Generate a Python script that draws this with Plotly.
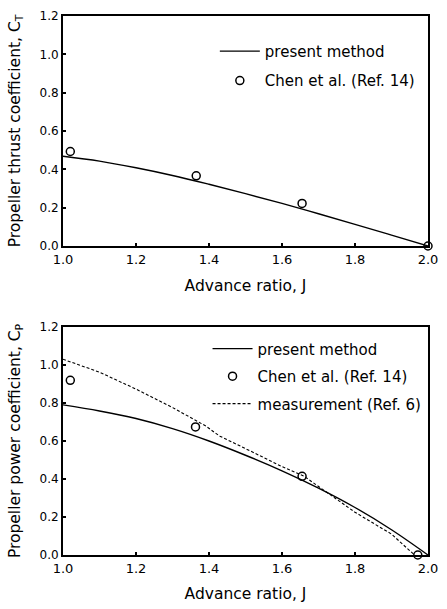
import plotly.graph_objects as go
from plotly.subplots import make_subplots

# ---- Data ----
# Top panel: thrust coefficient
J_ct_present = [1.0, 1.1, 1.2, 1.3, 1.4, 1.5, 1.6, 1.7, 1.8, 1.9, 2.0]
CT_present = [0.468, 0.443, 0.408, 0.368, 0.322, 0.273, 0.222, 0.168, 0.113, 0.057, 0.0]
J_ct_chen = [1.02, 1.365, 1.655, 2.0]
CT_chen = [0.493, 0.366, 0.222, 0.0]

# Bottom panel: power coefficient
J_cp_present = [1.0, 1.1, 1.2, 1.3, 1.4, 1.5, 1.6, 1.7, 1.8, 1.9, 2.0]
CP_present = [0.79, 0.758, 0.718, 0.665, 0.600, 0.525, 0.443, 0.352, 0.25, 0.133, 0.0]
J_cp_chen = [1.02, 1.363, 1.655, 1.972]
CP_chen = [0.919, 0.674, 0.414, 0.0]
J_cp_meas = [1.0, 1.1, 1.2, 1.3, 1.39, 1.43, 1.5, 1.6, 1.66, 1.8, 1.9, 1.963]
CP_meas = [1.03, 0.962, 0.873, 0.776, 0.68, 0.625, 0.56, 0.465, 0.415, 0.225, 0.11, 0.0]

y_ticks = [0.0, 0.2, 0.4, 0.6, 0.8, 1.0, 1.2]
x_ticks = [1.0, 1.2, 1.4, 1.6, 1.8, 2.0]

FONT = "DejaVu Sans"
fig = make_subplots(rows=2, cols=1, vertical_spacing=0.15)

line_style = dict(color="black", width=1.4)
marker_style = dict(symbol="circle-open", size=8, color="black", line=dict(width=1.5, color="black"))

fig.add_trace(go.Scatter(x=J_ct_present, y=CT_present, mode="lines", line=line_style,
                         name="present method", legend="legend", legendgroup="a",
                         line_shape="spline"), row=1, col=1)
fig.add_trace(go.Scatter(x=J_ct_chen, y=CT_chen, mode="markers", marker=marker_style,
                         name="Chen et al. (Ref. 14)", legend="legend", legendgroup="b",
                         cliponaxis=False), row=1, col=1)

fig.add_trace(go.Scatter(x=J_cp_present, y=CP_present, mode="lines", line=line_style,
                         name="present method", legend="legend2", legendgroup="c",
                         line_shape="spline"), row=2, col=1)
fig.add_trace(go.Scatter(x=J_cp_chen, y=CP_chen, mode="markers", marker=marker_style,
                         name="Chen et al. (Ref. 14)", legend="legend2", legendgroup="d",
                         cliponaxis=False), row=2, col=1)
fig.add_trace(go.Scatter(x=J_cp_meas, y=CP_meas, mode="lines",
                         line=dict(color="black", width=1.1, dash="3px,2px"),
                         name="measurement (Ref. 6)", legend="legend2", legendgroup="e"),
              row=2, col=1)

axis_common = dict(showline=True, linecolor="black", linewidth=2, mirror=True,
                   ticks="inside", ticklen=3, tickwidth=1.5, tickcolor="black",
                   showgrid=False, zeroline=False, tickformat=".1f")

for r in (1, 2):
    fig.update_xaxes(range=[1.0, 2.0], tickvals=x_ticks, title_text="Advance ratio, J",
                     title_font=dict(size=15.5, family=FONT, color="black"),
                     tickfont=dict(size=13, family=FONT, color="black"),
                     row=r, col=1, **axis_common)
fig.update_xaxes(title_standoff=14, row=2, col=1)
fig.update_yaxes(range=[0, 1.2], tickvals=y_ticks,
                 title_text="Propeller thrust coefficient, C<sub>T</sub>", row=1, col=1)
fig.update_yaxes(range=[0, 1.2], tickvals=y_ticks,
                 title_text="Propeller power coefficient, C<sub>P</sub>", row=2, col=1)
fig.update_yaxes(title_font=dict(size=15.5, family=FONT, color="black"),
                 tickfont=dict(size=12, family=FONT, color="black"), **axis_common)

fig.update_layout(
    width=447, height=609,
    margin=dict(l=63, r=9, t=12, b=51),
    paper_bgcolor="white", plot_bgcolor="white",
    font=dict(family=FONT, color="black"),
    xaxis=dict(domain=[0, 1]), xaxis2=dict(domain=[0, 1]),
    yaxis=dict(domain=[0.5733, 1.0]), yaxis2=dict(domain=[0.0, 0.4231]),
    legend=dict(x=0.416, y=0.965, xanchor="left", yanchor="top",
                bgcolor="rgba(0,0,0,0)", font=dict(size=15, family=FONT),
                traceorder="grouped", tracegroupgap=7, itemwidth=40),
    legend2=dict(x=0.396, y=0.413, xanchor="left", yanchor="top",
                 bgcolor="rgba(0,0,0,0)", font=dict(size=15, family=FONT),
                 traceorder="grouped", tracegroupgap=5, itemwidth=40),
    showlegend=True,
)

fig.write_html("out.html")
